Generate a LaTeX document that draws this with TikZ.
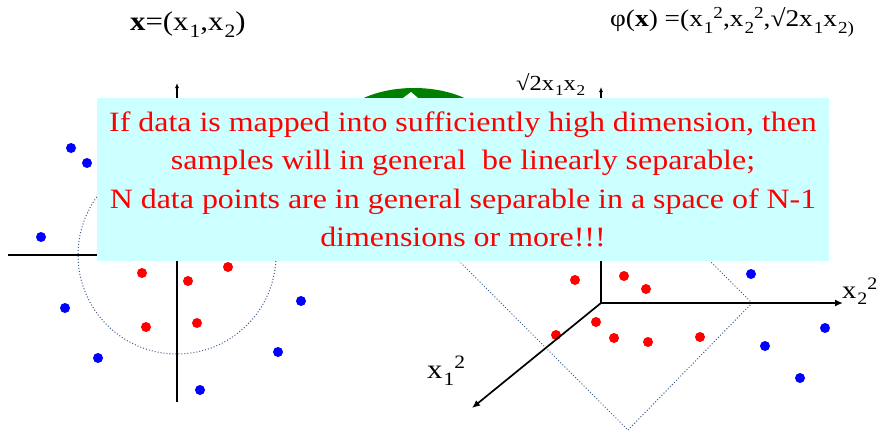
\documentclass[tikz,border=0pt]{standalone}
\usepackage{fontspec}
\setmainfont[FakeStretch=1.14]{Liberation Serif}
\usepackage{xcolor}
\usetikzlibrary{arrows.meta, positioning}

\definecolor{boxcyan}{RGB}{204,255,255}
\definecolor{sepline}{RGB}{60,90,140}
\definecolor{leafgreen}{RGB}{0,128,0}

% sub- and superscripts as the slide sets them
\newcommand{\lo}[1]{\kern0.04em\raisebox{-0.27em}{\scalebox{0.7}{#1}}}
\newcommand{\hi}[1]{\raisebox{0.36em}{\scalebox{0.7}{#1}}}

\begin{document}
\begin{tikzpicture}[x=1pt, y=-1pt,
    every node/.style={inner sep=0pt},
    rdot/.style={fill=red},
    bdot/.style={fill=blue},
    axis/.style={line width=1.7pt, -{Latex[length=8pt,width=7pt]}},
    smallaxis/.style={line width=1.7pt, -{Latex[length=5pt,width=4pt]}},
    sep/.style={draw=sepline, line width=1pt, dotted},
    lab/.style={anchor=base west},
    msgbox/.style={fill=boxcyan, text=red, align=center,
      minimum width=732pt, minimum height=163pt,
      font=\fontsize{28}{38.5}\selectfont},
  ]
  \useasboundingbox (0,0) rectangle (883,431);

  % input space
  \coordinate (o1) at (177,255);
  \coordinate (x1lo) at (8,255);
  \coordinate (x1hi) at (346,255);
  \coordinate (x2lo) at (177,402);
  \coordinate (x2hi) at (177,83);
  \draw[sep] (o1) circle[radius=99pt];
  \draw[smallaxis] (x1lo) -- (x1hi);
  \draw[smallaxis] (x2lo) -- (x2hi);
  \foreach \p in {(71,148),(87,163),(41,237),(65,308),(98,358),(200,390),(278,352),(301,301)}
    \fill[bdot] \p circle[radius=5pt];
  \foreach \p in {(142,273),(188,281),(228,267),(146,327),(197,323)}
    \fill[rdot] \p circle[radius=5pt];
  \node[lab, font=\fontsize{27}{32}\selectfont] (xin) at (130,30)
    {\textbf{x}=(x\lo{1},x\lo{2})};

  % feature space
  \coordinate (o2) at (601,303);
  \coordinate (z1hi) at (472,408);
  \coordinate (z2hi) at (843,303);
  \coordinate (z3hi) at (601,87);
  \draw[sep] (628,430) -- (752,303) -- (552,103) -- (428,230) -- cycle;
  \foreach \p in {(575,280),(624,276),(646,289),(596,322),(614,338),(648,342),(700,337),(556,335)}
    \fill[rdot] \p circle[radius=5pt];
  \foreach \p in {(751,274),(825,328),(765,346),(800,378)}
    \fill[bdot] \p circle[radius=5pt];
  \draw[axis] (o2) -- (z1hi);
  \draw[axis] (o2) -- (z2hi);
  \draw[smallaxis] (o2) -- (z3hi);
  \node[lab, font=\fontsize{27}{32}\selectfont] (z1lab) at (427,378)
    {x\lo{1}\hi{2}};
  \node[lab, font=\fontsize{25}{30}\selectfont] (z2lab) at (842,298)
    {x\lo{2}\hi{2}};
  \node[lab, font=\fontsize{21.5}{25}\selectfont] (z3lab) at (516,90)
    {√2x\lo{1}x\lo{2}};
  \node[lab, font=\fontsize{24}{28}\selectfont] (phi) at (610,27)
    {φ(\textbf{x}) =(x\lo{1}\hi{2},x\lo{2}\hi{2},√2x\lo{1}x\lo{2)}};

  % mapping arrow behind the note
  \fill[leafgreen] (414,133) ellipse[x radius=80pt, y radius=45pt];
  \fill[white] (403,98) -- (411,92) -- (418,98) -- cycle;

  \node[msgbox] (msg) at (463,179.5)
    {If data is mapped into sufficiently high dimension, then\\
     samples will in general~ be linearly separable;\\
     N data points are in general separable in a space of N-1\\
     dimensions or more!!!};
\end{tikzpicture}
\end{document}
